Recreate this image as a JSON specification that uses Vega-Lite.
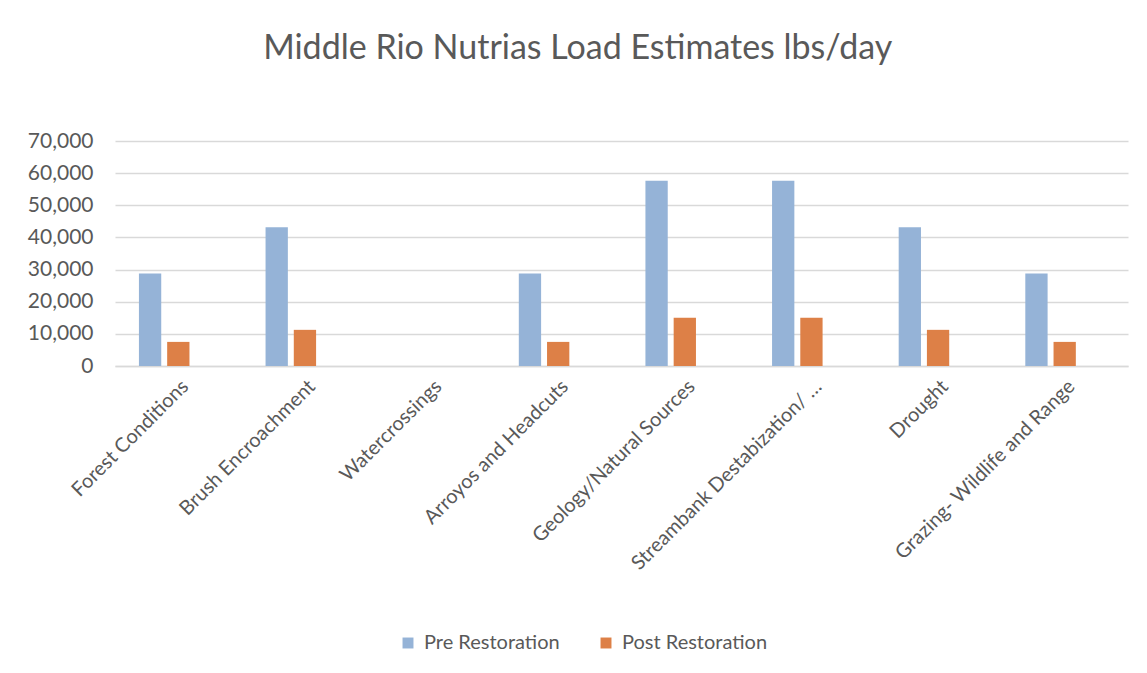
{
  "$schema": "https://vega.github.io/schema/vega-lite/v6.json",
  "width": 1013,
  "height": 225,
  "padding": {"left": 27, "top": 32, "right": 19, "bottom": 10},
  "background": "white",
  "title": {
    "text": "Middle Rio Nutrias Load Estimates lbs/day",
    "font": "Lato",
    "fontSize": 34,
    "fontWeight": "normal",
    "color": "#595959",
    "anchor": "middle",
    "frame": "bounds",
    "offset": 64
  },
  "config": {
    "view": {"stroke": null},
    "font": "Lato"
  },
  "data": {
    "values": [
      {"category": "Forest Conditions", "series": "Pre Restoration", "value": 28800},
      {"category": "Forest Conditions", "series": "Post Restoration", "value": 7500},
      {"category": "Brush Encroachment", "series": "Pre Restoration", "value": 43200},
      {"category": "Brush Encroachment", "series": "Post Restoration", "value": 11250},
      {"category": "Watercrossings", "series": "Pre Restoration", "value": 0},
      {"category": "Watercrossings", "series": "Post Restoration", "value": 0},
      {"category": "Arroyos and Headcuts", "series": "Pre Restoration", "value": 28800},
      {"category": "Arroyos and Headcuts", "series": "Post Restoration", "value": 7500},
      {"category": "Geology/Natural Sources", "series": "Pre Restoration", "value": 57600},
      {"category": "Geology/Natural Sources", "series": "Post Restoration", "value": 15000},
      {"category": "Streambank Destabization/ …", "series": "Pre Restoration", "value": 57600},
      {"category": "Streambank Destabization/ …", "series": "Post Restoration", "value": 15000},
      {"category": "Drought", "series": "Pre Restoration", "value": 43200},
      {"category": "Drought", "series": "Post Restoration", "value": 11250},
      {"category": "Grazing- Wildlife and Range", "series": "Pre Restoration", "value": 28800},
      {"category": "Grazing- Wildlife and Range", "series": "Post Restoration", "value": 7500}
    ]
  },
  "mark": {"type": "bar"},
  "encoding": {
    "x": {
      "field": "category",
      "type": "nominal",
      "sort": null,
      "scale": {"paddingInner": 0.378, "paddingOuter": 0.189},
      "axis": {
        "title": null,
        "labelAngle": -45,
        "labelFontSize": 20,
        "labelColor": "#595959",
        "labelPadding": 10,
        "ticks": false,
        "domainColor": "#d9d9d9",
        "domainWidth": 1.5,
        "labelLimit": 400
      }
    },
    "xOffset": {
      "field": "series",
      "type": "nominal",
      "scale": {
        "domain": ["Pre Restoration", "Post Restoration", "Series3"],
        "paddingInner": 0.21,
        "paddingOuter": 0
      }
    },
    "y": {
      "field": "value",
      "type": "quantitative",
      "scale": {"domain": [0, 70000], "nice": false},
      "axis": {
        "title": null,
        "values": [0, 10000, 20000, 30000, 40000, 50000, 60000, 70000],
        "format": ",.0f",
        "labelFontSize": 21,
        "labelColor": "#595959",
        "labelPadding": 22,
        "ticks": false,
        "domain": false,
        "gridColor": "#d9d9d9",
        "gridWidth": 1.5
      }
    },
    "color": {
      "field": "series",
      "type": "nominal",
      "scale": {
        "domain": ["Pre Restoration", "Post Restoration"],
        "range": ["#95B3D7", "#DD8047"]
      },
      "legend": {
        "title": null,
        "orient": "none",
        "legendX": 283,
        "legendY": 492,
        "direction": "horizontal",
        "symbolType": "square",
        "symbolSize": 120,
        "symbolStrokeWidth": 0,
        "labelFontSize": 20,
        "labelColor": "#595959",
        "labelOffset": 6,
        "columnPadding": 36
      }
    }
  }
}
